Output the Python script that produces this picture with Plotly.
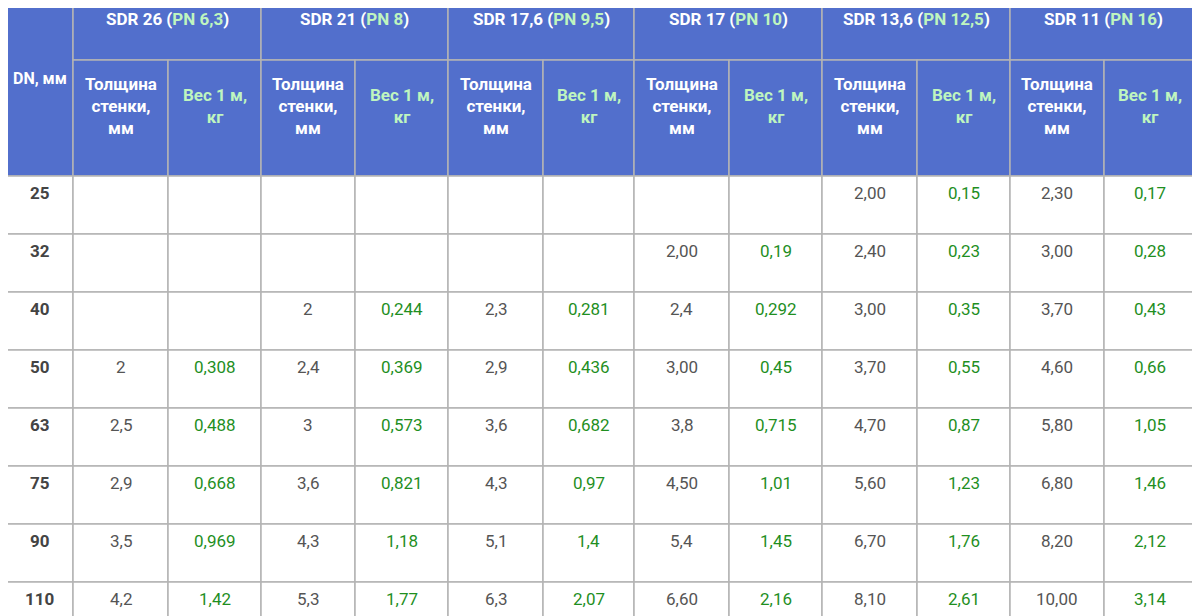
import plotly.graph_objects as go

dn = ["25", "32", "40", "50", "63", "75", "90", "110"]
sdr_names = ["SDR 26", "SDR 21", "SDR 17,6", "SDR 17", "SDR 13,6", "SDR 11"]
pn_names = ["PN 6,3", "PN 8", "PN 9,5", "PN 10", "PN 12,5", "PN 16"]

# wall thickness / weight per SDR group, by DN row ("" = empty cell)
wall = [
    ["", "", "", "2", "2,5", "2,9", "3,5", "4,2"],
    ["", "", "2", "2,4", "3", "3,6", "4,3", "5,3"],
    ["", "", "2,3", "2,9", "3,6", "4,3", "5,1", "6,3"],
    ["", "2,00", "2,4", "3,00", "3,8", "4,50", "5,4", "6,60"],
    ["2,00", "2,40", "3,00", "3,70", "4,70", "5,60", "6,70", "8,10"],
    ["2,30", "3,00", "3,70", "4,60", "5,80", "6,80", "8,20", "10,00"],
]
weight = [
    ["", "", "", "0,308", "0,488", "0,668", "0,969", "1,42"],
    ["", "", "0,244", "0,369", "0,573", "0,821", "1,18", "1,77"],
    ["", "", "0,281", "0,436", "0,682", "0,97", "1,4", "2,07"],
    ["", "0,19", "0,292", "0,45", "0,715", "1,01", "1,45", "2,16"],
    ["0,15", "0,23", "0,35", "0,55", "0,87", "1,23", "1,76", "2,61"],
    ["0,17", "0,28", "0,43", "0,66", "1,05", "1,46", "2,12", "3,14"],
]

HEAD = "#526fcc"
BORDER = "#b4b4b4"
LGREEN = "#bff5bf"
GREEN = "#1f8f1f"
GREY = "#555555"
FONT = "Roboto"

xs = [6, 73, 168, 261, 355, 448, 543, 634, 729, 822, 917, 1010, 1104, 1196]
y_top, y_mid, y_head = 4, 60, 176
row_h = 58
OFF = 8  # page body margin

fig = go.Figure()
shapes = []
ann = []

def cell(x0, x1, y0, y1, fill):
    shapes.append(dict(type="rect", xref="x", yref="y", x0=x0, x1=x1, y0=y0, y1=y1,
                       fillcolor=fill, line=dict(color=BORDER, width=1.5)))

def text(x, y, t, color, bold=False, size=17):
    ann.append(dict(x=x, y=y, xref="x", yref="y", text=f"<b>{t}</b>" if bold else t,
                    showarrow=False, font=dict(family=FONT, size=size, color=color),
                    xanchor="center", yanchor="middle", align="center"))

# header
cell(xs[0], xs[1], y_top, y_head, HEAD)
text((xs[0] + xs[1]) / 2, 78, "DN, мм", "white", True, 16)
for g in range(6):
    a, b, c = xs[1 + 2 * g], xs[2 + 2 * g], xs[3 + 2 * g]
    cell(a, c, y_top, y_mid, HEAD)
    text((a + c) / 2, 19, f"SDR {sdr_names[g][4:]} (<span style='color:{LGREEN}'>{pn_names[g]}</span>)",
         "white", True, 17)
    cell(a, b, y_mid, y_head, HEAD)
    cell(b, c, y_mid, y_head, HEAD)
    text((a + b) / 2, 106, "Толщина<br>стенки,<br>мм", "white", True, 17)
    text((b + c) / 2, 106, "Вес 1 м,<br>кг", LGREEN, True, 17)

# body
for r, d in enumerate(dn):
    y0 = y_head + r * row_h
    ty = y0 + 17
    cell(xs[0], xs[1], y0, y0 + row_h, "white")
    text((xs[0] + xs[1]) / 2, ty, d, "#444444", True, 17)
    for g in range(6):
        a, b, c = xs[1 + 2 * g], xs[2 + 2 * g], xs[3 + 2 * g]
        cell(a, b, y0, y0 + row_h, "white")
        cell(b, c, y0, y0 + row_h, "white")
        if wall[g][r]:
            text((a + b) / 2, ty, wall[g][r], GREY, False, 17)
        if weight[g][r]:
            text((b + c) / 2, ty, weight[g][r], GREEN, False, 17)

fig.add_trace(go.Scatter(x=[OFF, 1200 + OFF], y=[OFF, 616 + OFF], mode="markers",
                         marker=dict(opacity=0), hoverinfo="skip", showlegend=False))
fig.update_layout(
    width=1200, height=616, margin=dict(l=0, r=0, t=0, b=0),
    paper_bgcolor="white", plot_bgcolor="white",
    xaxis=dict(range=[OFF, 1200 + OFF], visible=False, fixedrange=True),
    yaxis=dict(range=[616 + OFF, OFF], visible=False, fixedrange=True),
    shapes=shapes, annotations=ann,
)
fig.write_html("out.html")
